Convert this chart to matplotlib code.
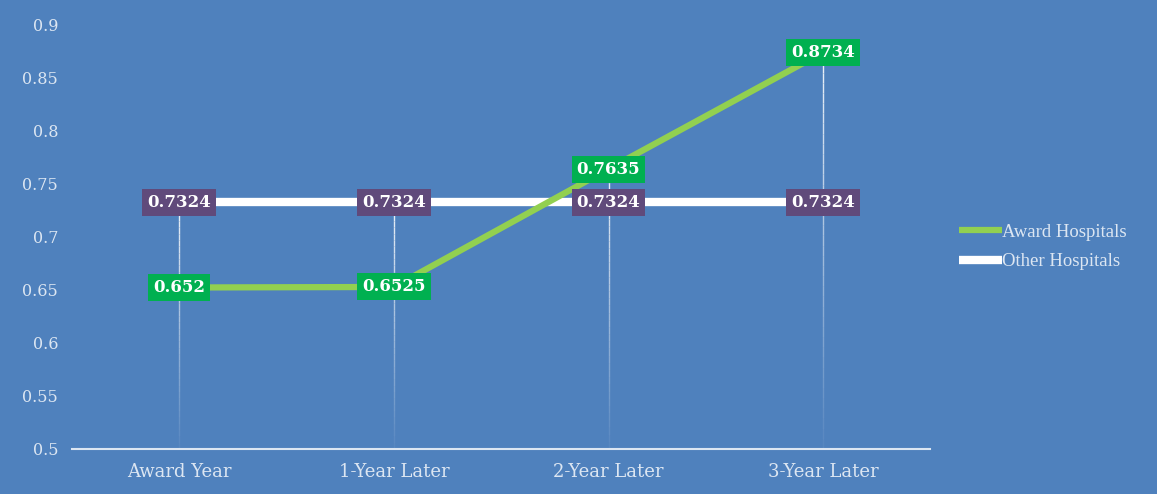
import numpy as np
import matplotlib.pyplot as plt
from matplotlib.collections import LineCollection

# chart data
categories = ['Award Year', '1-Year Later', '2-Year Later', '3-Year Later']
award = [0.652, 0.6525, 0.7635, 0.8734]
other = [0.7324, 0.7324, 0.7324, 0.7324]
yticks = [0.5, 0.55, 0.6, 0.65, 0.7, 0.75, 0.8, 0.85, 0.9]

bg = '#4F81BD'
txt = '#DCE6F2'

plt.rcParams['font.family'] = ['DejaVu Serif']

fig = plt.figure(figsize=(11.57, 4.94), dpi=100)
fig.patch.set_facecolor(bg)
ax = fig.add_axes([0.0622, 0.0911, 0.742, 0.8603])
ax.set_facecolor(bg)

x = np.arange(len(categories))

# drop lines fading toward the axis
for i in x:
    top = max(award[i], other[i])
    ys = np.linspace(0.5, top, 40)
    segs = [[(i, ys[k]), (i, ys[k + 1])] for k in range(len(ys) - 1)]
    alphas = np.linspace(0.05, 0.9, len(segs))
    cols = [(1, 1, 1, a) for a in alphas]
    ax.add_collection(LineCollection(segs, colors=cols, linewidths=1.0, zorder=1))

ax.plot(x, award, color='#92D050', lw=4.5, zorder=3, label='Award Hospitals', solid_capstyle='butt')
ax.plot(x, other, color='white', lw=6, zorder=2, label='Other Hospitals', solid_capstyle='butt')

for i in x:
    ax.text(i, award[i], f'{award[i]:g}', ha='center', va='center', color='white',
            fontsize=12, fontweight='bold', zorder=5,
            bbox=dict(boxstyle='square,pad=0.3', fc='#00B050', ec='none'))
    ax.text(i, other[i], f'{other[i]:g}', ha='center', va='center', color='white',
            fontsize=12, fontweight='bold', zorder=5,
            bbox=dict(boxstyle='square,pad=0.3', fc='#604A7B', ec='none'))

ax.set_xlim(-0.5, 3.5)
ax.set_ylim(0.5, 0.9)
ax.set_xticks(x)
ax.set_xticklabels(categories)
ax.set_yticks(yticks)
ax.set_yticklabels([f'{v:g}' for v in yticks])
ax.tick_params(axis='both', length=0, colors=txt, labelsize=11.5)
ax.tick_params(axis='y', pad=10)
ax.tick_params(axis='x', pad=10)
for lbl in ax.get_xticklabels():
    lbl.set_fontsize(13)
for s in ['top', 'right', 'left']:
    ax.spines[s].set_visible(False)
ax.spines['bottom'].set_color(txt)
ax.spines['bottom'].set_linewidth(1.5)

leg = fig.legend(loc='center left', bbox_to_anchor=(0.814, 0.50), frameon=False,
                 prop={'family': 'Liberation Serif', 'size': 13.5}, labelcolor=txt,
                 handlelength=2.3, handletextpad=0.0, labelspacing=0.65)

fig.savefig('out.png', dpi=100, facecolor=bg)
